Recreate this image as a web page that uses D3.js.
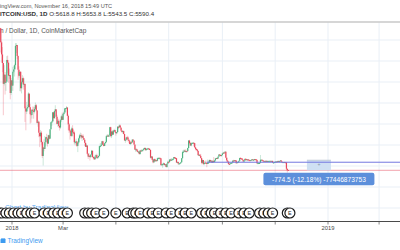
<!DOCTYPE html>
<html>
<head>
<meta charset="utf-8">
<script src="https://cdn.jsdelivr.net/npm/d3@7"></script>
<style>
  body { margin: 0; background: #fff; }
  svg { display: block; }
  text { font-family: "Liberation Sans", Arial, sans-serif; }
</style>
</head>
<body>
<div id="chart"></div>
<script>
// daily BTC/USD (CoinMarketCap) from 2017-12-16, open = previous close
var firstDay = "2017-12-16";
var firstOpen = 17776;

var closes = [
  // Dec 2017 (16-31)
  19498, 19140, 19115, 17777, 16624, 15802, 13831, 14700, 13926, 14027, 16099, 15839, 14606, 14657, 12952, 14157,
  // Jan 2018
  13657, 14982, 15201, 15599, 17429, 17527, 16477, 15170, 14595, 14973, 13405, 13980, 14360, 13773, 13820, 11490,
  11188, 11474, 11607, 12899, 11600, 10931, 10868, 11359, 11259, 11171, 11440, 11787, 11296, 10106, 10221,
  // Feb
  9171, 8830, 9174, 8277, 6955, 7754, 7621, 8265, 8736, 8621, 8129, 8926, 8598, 9494, 10166, 10233,
  11112, 10551, 11225, 11403, 10690, 10005, 10301, 9813, 9664, 10366, 10725, 10397,
  // Mar
  10951, 11086, 11489, 11512, 11573, 10779, 9965, 9395, 9337, 8866, 9578, 9205, 9194, 8269, 8300, 8338,
  7916, 8223, 8630, 8913, 8929, 8728, 8879, 8668, 8495, 8209, 7833, 7954, 7165, 6890, 6973,
  // Apr
  6845, 7083, 7456, 6853, 6812, 6636, 6911, 7023, 6770, 6834, 6968, 7889, 7895, 8004, 8355, 8058,
  7903, 8163, 8295, 8845, 8895, 8803, 8930, 9697, 8845, 9282, 8987, 9348, 9419, 9240,
  // May
  9119, 9235, 9744, 9700, 9858, 9654, 9373, 9234, 9325, 9043, 8441, 8504, 8723, 8716, 8510, 8368,
  8094, 8250, 8247, 8513, 8418, 8041, 7557, 7587, 7480, 7355, 7368, 7135, 7472, 7406, 7494,
  // Jun
  7541, 7643, 7720, 7514, 7633, 7653, 7679, 7624, 7531, 6786, 6906, 6582, 6349, 6675, 6456, 6550,
  6500, 6734, 6769, 6776, 6729, 6083, 6162, 6173, 6249, 6093, 6157, 5903, 6218, 6404,
  // Jul
  6385, 6614, 6529, 6597, 6639, 6673, 6857, 6773, 6741, 6329, 6394, 6228, 6238, 6276, 6359, 6741,
  7321, 7370, 7466, 7354, 7419, 7418, 7711, 8424, 8182, 7951, 8165, 8193, 8218, 8180, 7780,
  // Aug
  7624, 7567, 7434, 7032, 7068, 6951, 6753, 6305, 6568, 6184, 6295, 6322, 6297, 6199, 6308, 6334,
  6580, 6423, 6506, 6308, 6488, 6376, 6534, 6719, 6763, 6707, 6885, 7096, 7047, 6978, 7038,
  // Sep
  7193, 7272, 7260, 7362, 6793, 6530, 6419, 6198, 6186, 6252, 6294, 6330, 6518, 6514, 6544, 6522,
  6260, 6360, 6388, 6491, 6767, 6721, 6711, 6595, 6446, 6495, 6676, 6644, 6601, 6625,
  // Oct
  6589, 6556, 6502, 6576, 6636, 6595, 6602, 6652, 6642, 6585, 6256, 6274, 6286, 6290, 6596, 6596,
  6544, 6476, 6465, 6489, 6482, 6487, 6475, 6480, 6486, 6487, 6485, 6487, 6332, 6334, 6371,
  // Nov (1-16)
  6411, 6434, 6387, 6486, 6428, 6461, 6530, 6415, 6339, 6371, 6376, 6359, 6351, 5738, 5619, 5590
];

var highs = [
  19750, 20089, 19177, 19021, 17898, 17323, 15824, 15603, 14953, 14493, 16461, 16520, 15888, 15279, 14681, 14377,
  14112, 15444, 15572, 15739, 17705, 17712, 17462, 16537, 15497, 14973, 15018, 14109, 14659, 14511, 14356, 13843,
  11679, 12107, 11839, 13031, 12787, 11926, 11374, 11390, 11668, 11644, 11614, 12040, 11907, 11307, 10382,
  10245, 9142, 9430, 9335, 8364, 7850, 8558, 8866, 8739, 9066, 8549, 8985, 8958, 9518, 10219, 10324,
  11139, 11075, 11274, 11786, 11280, 10877, 10419, 10501, 9860, 10475, 10871, 11089,
  11030, 11190, 11528, 11512, 11710, 11566, 10900, 10100, 9466, 9531, 9740, 9889, 9470, 9355, 8421, 8602,
  8346, 8261, 8704, 9051, 9177, 9100, 8880, 9036, 8682, 8536, 8215, 8109, 7960, 7244, 7223,
  7049, 7134, 7530, 7436, 6932, 6857, 7070, 7103, 7178, 6892, 6968, 7947, 8183, 8140, 8396, 8398,
  8155, 8196, 8310, 8931, 9035, 9001, 9008, 9732, 9746, 9307, 9400, 9429, 9545, 9456,
  9255, 9255, 9788, 9747, 9964, 9939, 9652, 9445, 9376, 9370, 9040, 8615, 8750, 8881, 8836, 8507,
  8462, 8274, 8379, 8569, 8553, 8422, 8040, 7734, 7659, 7620, 7425, 7437, 7526, 7559, 7604,
  7554, 7695, 7753, 7755, 7652, 7695, 7741, 7700, 7684, 7531, 6920, 6908, 6609, 6679, 6674, 6564,
  6590, 6790, 6822, 6797, 6795, 6741, 6233, 6255, 6335, 6290, 6180, 6171, 6250, 6527,
  6431, 6640, 6681, 6746, 6731, 6700, 6860, 6794, 6805, 6745, 6413, 6390, 6300, 6302, 6395, 6760,
  7459, 7547, 7537, 7613, 7433, 7560, 7746, 8472, 8487, 8278, 8265, 8222, 8278, 8229, 8172,
  7760, 7696, 7606, 7492, 7103, 7151, 7150, 6747, 6625, 6580, 6470, 6473, 6537, 6287, 6617, 6476,
  6590, 6589, 6537, 6529, 6502, 6854, 6548, 6719, 6800, 6767, 6901, 7114, 7131, 7059, 7072,
  7228, 7345, 7338, 7388, 7388, 6791, 6530, 6434, 6319, 6335, 6335, 6334, 6535, 6592, 6565, 6547,
  6540, 6398, 6453, 6520, 6780, 6837, 6755, 6713, 6595, 6542, 6704, 6755, 6650, 6643,
  6653, 6601, 6559, 6603, 6651, 6646, 6615, 6677, 6661, 6646, 6586, 6327, 6295, 6352, 7045, 6618,
  6606, 6553, 6497, 6497, 6520, 6521, 6491, 6504, 6496, 6512, 6497, 6495, 6494, 6347, 6383,
  6423, 6450, 6436, 6487, 6482, 6463, 6565, 6535, 6414, 6379, 6385, 6405, 6375, 6357, 5755, 5654
];

var lows = [
  17580, 18750, 18005, 16813, 15834, 14934, 10834, 13672, 12808, 13160, 14028, 14865, 13937, 14308, 12350, 12755,
  13154, 13163, 14844, 14522, 15202, 16765, 16177, 14209, 14424, 13131, 13106, 12916, 13952, 13268, 13529, 10194,
  9402, 10942, 11215, 11578, 11600, 10036, 10129, 10513, 11061, 10504, 11009, 11475, 11222, 10036, 9745,
  8750, 7796, 8251, 8033, 6756, 6048, 7401, 7786, 7932, 8270, 7850, 8152, 8455, 8651, 9507, 9824,
  10149, 10282, 10513, 11138, 10469, 9955, 9730, 9645, 9377, 9541, 10174, 10393,
  10385, 10840, 11002, 11136, 11431, 10756, 9394, 9138, 8513, 8828, 8749, 8830, 9040, 8068, 7958, 8084,
  7812, 7323, 8093, 8295, 8846, 8564, 8379, 8665, 8462, 7894, 7830, 7813, 7081, 6677, 6863,
  6526, 6815, 7072, 6842, 6645, 6575, 6625, 6920, 6662, 6731, 6818, 6937, 7817, 7877, 8007, 7969,
  7867, 7919, 8140, 8191, 8830, 8781, 8761, 8950, 8730, 8657, 8963, 8973, 9247, 9163,
  8891, 9070, 9200, 9500, 9687, 9581, 9288, 9172, 9061, 9026, 8383, 8214, 8444, 8340, 8480, 8175,
  8063, 7997, 8220, 8233, 8351, 8034, 7533, 7331, 7392, 7338, 7260, 7107, 7087, 7326, 7405,
  7358, 7497, 7613, 7469, 7440, 7521, 7643, 7565, 7513, 6711, 6694, 6545, 6258, 6315, 6438, 6413,
  6499, 6446, 6699, 6587, 6717, 6036, 6074, 5826, 6120, 6083, 6057, 5884, 5827, 6213,
  6311, 6322, 6490, 6478, 6528, 6533, 6632, 6705, 6700, 6330, 6329, 6119, 6167, 6210, 6268, 6343,
  6693, 7276, 7300, 7336, 7273, 7395, 7393, 7705, 8080, 7932, 7868, 8128, 8160, 7867, 7713,
  7494, 7535, 7335, 6984, 6940, 6920, 6720, 6167, 6236, 6107, 6067, 6236, 6197, 5880, 6175, 6236,
  6303, 6339, 6323, 6301, 6287, 6345, 6347, 6458, 6700, 6646, 6678, 6890, 6994, 6905, 6918,
  7032, 7151, 7215, 7269, 6736, 6347, 6377, 6175, 6180, 6214, 6188, 6247, 6336, 6480, 6503, 6437,
  6250, 6263, 6265, 6385, 6489, 6693, 6696, 6584, 6370, 6438, 6477, 6618, 6545, 6571,
  6566, 6517, 6471, 6499, 6554, 6587, 6557, 6597, 6619, 6545, 6202, 6261, 6265, 6285, 6280, 6554,
  6539, 6442, 6453, 6463, 6479, 6471, 6452, 6466, 6458, 6459, 6475, 6467, 6314, 6314, 6315,
  6362, 6409, 6361, 6361, 6405, 6402, 6455, 6395, 6324, 6339, 6290, 6337, 6316, 5576, 5373, 5544
];

// event markers along the bottom
var eventDays = [
  "2017-12-20", "2017-12-25", "2017-12-29", "2018-01-03", "2018-01-08", "2018-01-12", "2018-01-18",
  "2018-01-23", "2018-01-27", "2018-02-07", "2018-02-12", "2018-02-18", "2018-02-23", "2018-03-01",
  "2018-03-06", "2018-03-26", "2018-03-30", "2018-04-03", "2018-04-08", "2018-04-17", "2018-05-01",
  "2018-05-14", "2018-05-21", "2018-05-24", "2018-05-29", "2018-06-07", "2018-06-12", "2018-06-19",
  "2018-06-28", "2018-07-04", "2018-07-14", "2018-07-20", "2018-07-27", "2018-08-08", "2018-08-13",
  "2018-08-19", "2018-08-23", "2018-08-30", "2018-09-05", "2018-09-11", "2018-09-20", "2018-09-26",
  "2018-10-02", "2018-10-14", "2018-10-19", "2018-10-24", "2018-10-29", "2018-11-15", "2018-11-18"
];

var tickLabels = ["2018", "Mar", "", "", "", "", "2019", ""];
var priceTicks = [2000, 4000, 6000, 8000, 10000, 12000, 14000, 16000, 18000, 20000];

var headerTitle = "TradingView.com, November 16, 2018 15:49 UTC";
var symbolText = "BITCOIN:USD, 1D";
var ohlcText = " O:5618.8 H:5653.8 L:5543.5 C:5590.4";
var legendText = "Bitcoin / Dollar, 1D, CoinMarketCap";

// price range measurement
var rangeStart = "2018-08-14", rangeEnd = "2019-04-30";
var rangeFrom = 6359, rangeTo = 5584.5;
var rangeLabel = "-774.5 (-12.18%) -77446873753";
var lastPrice = 5590.4;

var W = 400, H = 250;
var plotTop = 22, plotBottom = 221;
var upColor = "#4fb381", downColor = "#e8475a";
var parse = d3.utcParse("%Y-%m-%d");

var svg = d3.select("#chart").append("svg")
    .attr("width", W)
    .attr("height", H);

var x = d3.scaleUtc()
    .domain([parse("2018-01-01"), parse("2019-01-01")])
    .range([12, 328]);

var y = d3.scaleLinear()
    .domain([6000, 18000])
    .range([166, 40]);

var start = parse(firstDay);
var candles = closes.map(function(c, i) {
  return {
    date: d3.utcDay.offset(start, i),
    open: i === 0 ? firstOpen : closes[i - 1],
    high: highs[i], low: lows[i], close: c
  };
});

svg.append("defs").append("clipPath").attr("id", "plot")
  .append("rect").attr("x", 0).attr("y", plotTop).attr("width", W).attr("height", plotBottom - plotTop);

// grid
var monthTicks = d3.utcMonth.every(2).range(parse("2018-01-01"), parse("2019-04-01"));
var grid = svg.append("g").attr("clip-path", "url(#plot)");
grid.selectAll(".vg").data(monthTicks).enter().append("line")
    .attr("x1", function(d) { return x(d); })
    .attr("x2", function(d) { return x(d); })
    .attr("y1", plotTop).attr("y2", plotBottom)
    .attr("stroke", "#e9eff6").attr("stroke-width", 1);
grid.selectAll(".hg").data(priceTicks).enter().append("line")
    .attr("x1", 0).attr("x2", W)
    .attr("y1", function(d) { return y(d); })
    .attr("y2", function(d) { return y(d); })
    .attr("stroke", "#e9eff6").attr("stroke-width", 1);

// header
svg.append("line").attr("x1", 0).attr("x2", W).attr("y1", 22).attr("y2", 22)
    .attr("stroke", "#c9c9c9").attr("stroke-width", 1.5);

function cropped(str, skip, yy, size, color, weight) {
  var t = svg.append("text").attr("y", yy).attr("font-size", size)
      .attr("fill", color).attr("font-weight", weight || "normal").text(str);
  t.attr("x", -t.node().getSubStringLength(0, skip));
  return t;
}
cropped(headerTitle, 4, 7.5, 5.6, "#555");

var line2 = svg.append("text").attr("y", 16).attr("font-size", 6.2).attr("fill", "#333");
line2.append("tspan").attr("font-weight", "bold").text(symbolText);
line2.append("tspan").text(ohlcText);
line2.attr("x", -line2.node().getSubStringLength(0, 1));

cropped(legendText, 6, 33, 6.5, "#555");

// candles
var plot = svg.append("g").attr("clip-path", "url(#plot)");
var bw = 1.2;

plot.selectAll(".wick").data(candles).enter().append("line")
    .attr("x1", function(d) { return x(d.date); })
    .attr("x2", function(d) { return x(d.date); })
    .attr("y1", function(d) { return y(d.high); })
    .attr("y2", function(d) { return y(d.low); })
    .attr("stroke", function(d) { return d.close >= d.open ? upColor : downColor; })
    .attr("stroke-opacity", 0.5)
    .attr("stroke-width", 0.6);

plot.selectAll(".body").data(candles).enter().append("rect")
    .attr("x", function(d) { return x(d.date) - bw / 2; })
    .attr("y", function(d) { return y(Math.max(d.open, d.close)); })
    .attr("width", bw)
    .attr("height", function(d) { return Math.max(1, Math.abs(y(d.open) - y(d.close))); })
    .attr("fill", function(d) { return d.close >= d.open ? upColor : downColor; });

// last price line
plot.append("line").attr("x1", 0).attr("x2", W)
    .attr("y1", y(lastPrice)).attr("y2", y(lastPrice))
    .attr("stroke", downColor).attr("stroke-opacity", 0.5).attr("stroke-width", 1);

// price range tool
var rx1 = x(parse(rangeStart)), rx2 = x(parse(rangeEnd));
var rmid = (rx1 + rx2) / 2;
plot.append("rect")
    .attr("x", rmid - 12).attr("y", y(rangeFrom) - 2)
    .attr("width", 24).attr("height", y(rangeTo) - y(rangeFrom) + 2)
    .attr("fill", "#cfe0f3");
plot.append("line").attr("x1", rmid - 12).attr("x2", rmid + 12)
    .attr("y1", y(rangeFrom) - 2).attr("y2", y(rangeFrom) - 2)
    .attr("stroke", "#b9c3cf").attr("stroke-width", 0.8);
plot.append("line").attr("x1", rx1).attr("x2", rx2)
    .attr("y1", y(rangeFrom)).attr("y2", y(rangeFrom))
    .attr("stroke", "#7378e0").attr("stroke-width", 1);
plot.append("text").attr("x", rmid).attr("y", y(rangeFrom) + 4)
    .attr("text-anchor", "middle").attr("font-size", 5).attr("fill", "#8a97a8").text("+");

var lbl = svg.append("g");
lbl.append("rect").attr("x", rmid - 55.5).attr("y", y(rangeTo) + 2.5)
    .attr("width", 111).attr("height", 12.5).attr("rx", 2)
    .attr("fill", "#5c8fdb");
lbl.append("text").attr("x", rmid).attr("y", y(rangeTo) + 11.3)
    .attr("text-anchor", "middle").attr("font-size", 6.6).attr("fill", "#fff")
    .text(rangeLabel);

// watermark + events
svg.append("text").attr("x", 5).attr("y", 209.5).attr("font-size", 6.6)
    .attr("fill", "#3d9bf0").attr("fill-opacity", 0.85).text("Chart by TradingView");

var ev = svg.append("g").selectAll("g").data(eventDays).enter().append("g")
    .attr("transform", function(d) { return "translate(" + x(parse(d)) + ",213)"; });
ev.append("circle").attr("r", 5).attr("fill", "#fff")
    .attr("stroke", "#1c1c1c").attr("stroke-width", 1.2);
ev.append("text").attr("y", 1.9).attr("text-anchor", "middle")
    .attr("font-size", 5.4).attr("fill", "#1c1c1c").text("E");

// time axis
svg.append("line").attr("x1", 0).attr("x2", W).attr("y1", plotBottom + 0.5).attr("y2", plotBottom + 0.5)
    .attr("stroke", "#4a4a4a").attr("stroke-width", 1);
svg.selectAll(".tk").data(monthTicks).enter().append("line")
    .attr("x1", function(d) { return x(d); })
    .attr("x2", function(d) { return x(d); })
    .attr("y1", plotBottom + 1).attr("y2", plotBottom + 3.5)
    .attr("stroke", "#888").attr("stroke-width", 1);
svg.selectAll(".tl").data(monthTicks).enter().append("text")
    .attr("x", function(d) { return x(d); })
    .attr("y", 230)
    .attr("text-anchor", "middle").attr("font-size", 5.8).attr("fill", "#4a4a4a")
    .text(function(d, i) { return tickLabels[i]; });

// logo
svg.append("path")
    .attr("d", "M0.5,243 L0.5,240 A1.5,1.5 0 0 1 3,238.6 A1.6,1.6 0 0 1 5.5,240.5 L5.5,243 Z")
    .attr("fill", "#3d9bf0");
svg.append("text").attr("x", 7.5).attr("y", 243.3).attr("font-size", 6.4)
    .attr("fill", "#3d9bf0").text("TradingView");
</script>
</body>
</html>
